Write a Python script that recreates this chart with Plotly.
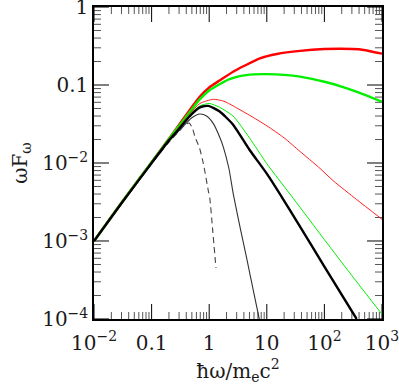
import plotly.graph_objects as go

# ---- data (x: hbar*omega/m_e c^2, y: omega F_omega) ----
x_red_thick = [0.01, 0.03, 0.1, 0.2, 0.3, 0.46, 0.69, 1, 1.54, 2.6, 4, 7.6, 15, 38, 100, 190, 400, 1000]
y_red_thick = [1e-3, 3.1e-3, 0.0102, 0.0205, 0.031, 0.048, 0.071, 0.093, 0.115, 0.148, 0.175, 0.22, 0.25, 0.274, 0.289, 0.292, 0.287, 0.252]

x_green_thick = [0.01, 0.03, 0.1, 0.2, 0.3, 0.46, 0.69, 1, 1.54, 2.2, 3.4, 6, 10, 20, 38, 100, 186, 400, 1000]
y_green_thick = [1e-3, 3.1e-3, 0.0102, 0.0203, 0.030, 0.045, 0.066, 0.085, 0.103, 0.118, 0.13, 0.137, 0.138, 0.135, 0.128, 0.11, 0.097, 0.08, 0.061]

x_red_thin = [0.01, 0.03, 0.1, 0.2, 0.3, 0.46, 0.69, 1.18, 1.8, 2.6, 5, 10, 20, 38, 80, 143, 363, 1000]
y_red_thin = [1e-3, 3.1e-3, 0.0101, 0.020, 0.029, 0.043, 0.058, 0.0656, 0.062, 0.054, 0.041, 0.030, 0.021, 0.0140, 0.0088, 0.0059, 0.0034, 0.0019]

x_green_thin = [0.01, 0.03, 0.1, 0.2, 0.3, 0.46, 0.69, 1, 1.5, 2.6, 5, 10, 29, 100, 300, 1000]
y_green_thin = [1e-3, 3.05e-3, 0.0101, 0.020, 0.0285, 0.042, 0.054, 0.058, 0.052, 0.040, 0.021, 0.0098, 0.0035, 1.04e-3, 3.6e-4, 1.15e-4]

x_black_thick = [0.01, 0.03, 0.1, 0.2, 0.3, 0.46, 0.69, 0.96, 1.5, 2.6, 5, 10, 19.4, 33, 100, 363]
y_black_thick = [1e-3, 3.05e-3, 0.01, 0.0195, 0.0275, 0.040, 0.0516, 0.054, 0.046, 0.031, 0.0148, 0.0073, 0.0034, 0.0018, 4.7e-4, 1e-4]

x_black_thin = [0.01, 0.03, 0.1, 0.2, 0.3, 0.5, 0.69, 0.9, 1.18, 1.5, 1.76, 2.2, 2.62, 3.5, 4.5, 6, 7.4]
y_black_thin = [1e-3, 3.0e-3, 0.0099, 0.019, 0.026, 0.038, 0.0425, 0.040, 0.032, 0.022, 0.016, 0.0085, 0.004, 0.0014, 5.9e-4, 2.1e-4, 1e-4]

x_dashed = [0.01, 0.03, 0.1, 0.2, 0.3, 0.38, 0.45, 0.51, 0.566, 0.68, 0.79, 0.96, 1.03, 1.15, 1.31]
y_dashed = [1e-3, 3.0e-3, 0.0098, 0.0185, 0.0255, 0.031, 0.0325, 0.028, 0.0217, 0.0155, 0.0099, 0.0045, 0.0034, 0.00137, 4.5e-4]

# axis decades and tick labels (default plotly label -> label shown in the reference)
x_decades = [0.01, 0.1, 1, 10, 100, 1000]
y_decades = [1e-4, 1e-3, 1e-2, 0.1, 1]
x_labels = {"0.01": "10<sup>\u22122</sup>", "0.1": "0.1", "1": "1", "10": "10",
            "100": "10<sup>2</sup>", "1000": "10<sup>3</sup>"}
y_labels = {"0.0001": "10<sup>\u22124</sup>", "0.001": "10<sup>\u22123</sup>",
            "0.01": "10<sup>\u22122</sup>", "0.1": "0.1", "1": "1"}

X_LOG = [-2, 3]
Y_LOG = [-4, 0]
X_RANGE = [X_LOG[0] - 0.0002, X_LOG[1] + 0.0002]
Y_RANGE = [Y_LOG[0] - 0.0002, Y_LOG[1] + 0.0002]
FONT = "DejaVu Serif"
TXT = "#1a1a1a"
W, H = 399, 385
MARGIN = dict(l=94, r=17, t=7, b=66)
MAJOR_LEN, MINOR_LEN = 15, 7  # px

fig = go.Figure()

# ---- inward tick marks on all four sides, drawn as thin line traces ----
x_dec_per_px = (X_RANGE[1] - X_RANGE[0]) / (W - MARGIN["l"] - MARGIN["r"])
y_dec_per_px = (Y_RANGE[1] - Y_RANGE[0]) / (H - MARGIN["t"] - MARGIN["b"])

def tick_paths(xvals, yvals, length):
    xs, ys = [], []
    ly = length * y_dec_per_px
    lx = length * x_dec_per_px
    for v in xvals:
        xs += [v, v, None, v, v, None]
        ys += [10 ** Y_LOG[0], 10 ** (Y_LOG[0] + ly), None,
               10 ** Y_LOG[1], 10 ** (Y_LOG[1] - ly), None]
    for v in yvals:
        ys += [v, v, None, v, v, None]
        xs += [10 ** X_LOG[0], 10 ** (X_LOG[0] + lx), None,
               10 ** X_LOG[1], 10 ** (X_LOG[1] - lx), None]
    return xs, ys

x_minor = [m * d for d in x_decades[:-1] for m in range(2, 10)]
y_minor = [m * d for d in y_decades[:-1] for m in range(2, 10)]
for xv, yv, ln, col in [(x_minor, y_minor, MINOR_LEN, "#555555"),
                        (x_decades, y_decades, MAJOR_LEN, "#000000")]:
    tx, ty = tick_paths(xv, yv, ln)
    fig.add_trace(go.Scatter(x=tx, y=ty, mode="lines", line=dict(color=col, width=1),
                             showlegend=False, hoverinfo="skip"))

series = [
    (x_red_thick, y_red_thick, "#ff0000", 2.4, "solid"),
    (x_green_thick, y_green_thick, "#00f000", 2.4, "solid"),
    (x_red_thin, y_red_thin, "#ff2020", 1.0, "solid"),
    (x_green_thin, y_green_thin, "#00f000", 1.0, "solid"),
    (x_black_thin, y_black_thin, "#333333", 1.1, "solid"),
    (x_dashed, y_dashed, "#444444", 1.1, "6px,4px"),
    (x_black_thick, y_black_thick, "#000000", 2.4, "solid"),
]
for xs, ys, col, w, dash in series:
    fig.add_trace(go.Scatter(x=xs, y=ys, mode="lines",
                             line=dict(color=col, width=w, dash=dash, shape="spline", smoothing=0.6),
                             showlegend=False, hoverinfo="skip"))

main_axis = dict(
    type="log", showgrid=False, zeroline=False, automargin=False,
    showline=True, linecolor="black", linewidth=1.5, mirror=True, ticks="",
    tickmode="linear", tick0=0, dtick=1, exponentformat="none",
    ticklabeloverflow="allow",
    tickfont=dict(family=FONT, size=20, color=TXT),
)

fig.update_layout(
    xaxis=dict(range=X_RANGE, labelalias=x_labels, ticklabelstandoff=5,
               title=dict(text="\u0127\u03c9/m<sub>e</sub>c<sup>2</sup>",
                          font=dict(family=FONT, size=20, color=TXT), standoff=26),
               **main_axis),
    yaxis=dict(range=Y_RANGE, labelalias=y_labels,
               title=dict(text="\u03c9F<sub>\u03c9</sub>",
                          font=dict(family=FONT, size=20, color=TXT), standoff=9),
               **main_axis),
    width=W, height=H,
    margin=MARGIN,
    paper_bgcolor="white", plot_bgcolor="white",
)

fig.write_html("out.html", config={"displayModeBar": False},
               post_script="document.body.style.margin='0';document.body.style.overflow='hidden';")
